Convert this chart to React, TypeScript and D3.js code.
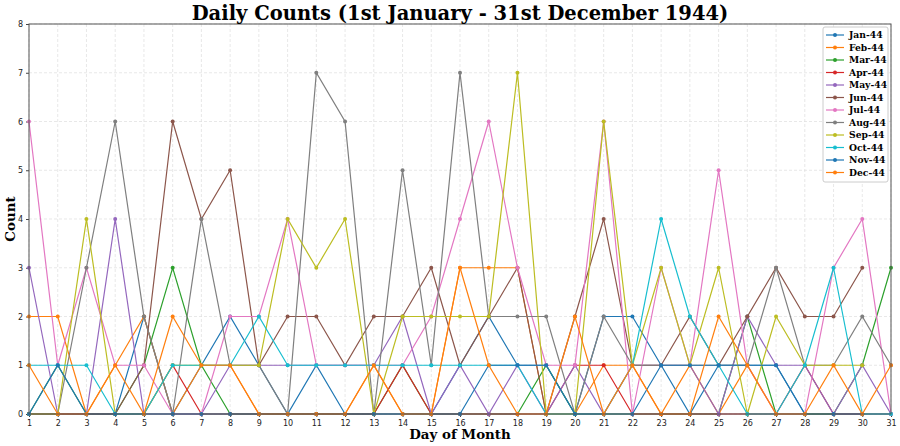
import React, { useRef, useEffect } from 'react';
import * as d3 from 'd3';

const monthLabels = ['Jan-44', 'Feb-44', 'Mar-44', 'Apr-44', 'May-44', 'Jun-44', 'Jul-44', 'Aug-44', 'Sep-44', 'Oct-44', 'Nov-44', 'Dec-44'];
const colors = ['#1f77b4', '#ff7f0e', '#2ca02c', '#d62728', '#9467bd', '#8c564b', '#e377c2', '#7f7f7f', '#bcbd22', '#17becf', '#1f77b4', '#ff7f0e'];

const jan = [0, 0, 0, 0, 2, 0, 1, 2, 1, 0, 1, 0, 0, 0, 0, 1, 2, 1, 1, 0, 2, 2, 1, 0, 1, 1, 1, 0, 0, 0, 0];
const feb = [2, 2, 0, 1, 2, 0, 1, 1, 0, 0, 0, 0, 1, 0, 0, 3, 3, 3, 0, 0, 1, 1, 0, 1, 0, 1, 0, 0, 0];
const mar = [0, 1, 0, 0, 1, 3, 1, 0, 0, 0, 0, 0, 0, 1, 0, 0, 0, 0, 1, 0, 0, 0, 0, 0, 0, 2, 0, 0, 0, 1, 3];
const apr = [0, 0, 0, 0, 0, 1, 0, 0, 0, 0, 0, 0, 0, 1, 0, 0, 0, 0, 0, 1, 1, 0, 0, 0, 0, 0, 0, 1, 0, 0];
const may = [3, 0, 0, 4, 0, 0, 0, 1, 1, 1, 1, 1, 1, 2, 0, 1, 0, 1, 0, 1, 0, 1, 1, 1, 0, 2, 1, 1, 0, 1, 0];
const jun = [0, 0, 0, 0, 1, 6, 4, 5, 1, 2, 2, 1, 2, 2, 3, 1, 2, 3, 0, 2, 4, 1, 1, 2, 1, 2, 3, 2, 2, 3];
const jul = [6, 1, 3, 1, 1, 0, 0, 2, 2, 4, 1, 1, 1, 1, 2, 4, 6, 3, 1, 1, 6, 0, 3, 1, 5, 1, 0, 0, 3, 4, 0];
const aug = [0, 0, 3, 6, 2, 0, 4, 1, 1, 0, 7, 6, 0, 5, 1, 7, 2, 2, 2, 0, 2, 1, 1, 1, 1, 1, 3, 1, 1, 2, 1];
const sep = [0, 0, 4, 0, 0, 1, 1, 1, 1, 4, 3, 4, 0, 2, 2, 2, 2, 7, 0, 0, 6, 1, 3, 1, 3, 0, 2, 1, 1, 1];
const oct = [1, 1, 1, 0, 0, 1, 1, 1, 2, 1, 1, 1, 1, 1, 1, 1, 1, 1, 0, 0, 0, 1, 4, 2, 1, 0, 0, 1, 3, 0, 0];
const nov = [0, 1, 0, 0, 0, 0, 0, 0, 0, 0, 0, 0, 0, 0, 0, 0, 1, 1, 1, 0, 0, 0, 1, 1, 1, 1, 1, 0, 0, 0];
const dec = [1, 0, 0, 1, 0, 2, 1, 1, 0, 0, 0, 0, 1, 0, 0, 3, 1, 0, 0, 2, 0, 1, 0, 0, 2, 1, 0, 0, 1, 0, 1];

const series = [jan, feb, mar, apr, may, jun, jul, aug, sep, oct, nov, dec];
const yTicks = [0, 1, 2, 3, 4, 5, 6, 7, 8];

const App: React.FC = () => {
  const svgRef = useRef<SVGSVGElement>(null);
  const width = 900;
  const height = 446;

  useEffect(() => {
    if (!svgRef.current) return;
    const svg = d3.select(svgRef.current);
    svg.selectAll('*').remove();

    const margin = { top: 24, right: 9, bottom: 32, left: 29 };
    const innerWidth = width - margin.left - margin.right;
    const innerHeight = height - margin.top - margin.bottom;

    const x = d3.scaleLinear().domain([1, 31]).range([0, innerWidth]);
    const y = d3.scaleLinear().domain([0, 8]).range([innerHeight, 0]);

    svg.append('rect').attr('width', width).attr('height', height).attr('fill', '#fff');

    const g = svg.append('g').attr('transform', `translate(${margin.left},${margin.top})`);

    // grid
    g.append('g')
      .selectAll('line')
      .data(d3.range(1, 32))
      .enter().append('line')
      .attr('x1', d => x(d)).attr('x2', d => x(d))
      .attr('y1', 0).attr('y2', innerHeight)
      .attr('stroke', '#dedede').attr('stroke-width', 0.7).attr('stroke-dasharray', '3,2');
    g.append('g')
      .selectAll('line')
      .data(yTicks)
      .enter().append('line')
      .attr('x1', 0).attr('x2', innerWidth)
      .attr('y1', d => y(d)).attr('y2', d => y(d))
      .attr('stroke', '#dedede').attr('stroke-width', 0.7).attr('stroke-dasharray', '3,2');

    // axes
    const xAxis = g.append('g')
      .attr('transform', `translate(0,${innerHeight})`)
      .call(d3.axisBottom(x).tickValues(d3.range(1, 32)).tickFormat(d3.format('d')).tickSize(3));
    const yAxis = g.append('g')
      .call(d3.axisLeft(y).tickValues(yTicks).tickFormat(d3.format('d')).tickSize(3));
    [xAxis, yAxis].forEach(a => {
      a.select('.domain').remove();
      a.selectAll('text').style('font-family', 'DejaVu Sans').style('font-size', '8px').style('fill', '#222');
      a.selectAll('line').attr('stroke', '#444');
    });

    // lines
    const line = d3.line<number>()
      .x((_d, i) => x(i + 1))
      .y(d => y(d));

    series.forEach((s, k) => {
      g.append('path')
        .datum(s)
        .attr('fill', 'none')
        .attr('stroke', colors[k])
        .attr('stroke-width', 1.2)
        .attr('d', line);
      g.append('g')
        .selectAll('circle')
        .data(s)
        .enter().append('circle')
        .attr('cx', (_d, i) => x(i + 1))
        .attr('cy', d => y(d))
        .attr('r', 2)
        .attr('fill', colors[k]);
    });

    // frame
    g.append('rect')
      .attr('width', innerWidth).attr('height', innerHeight)
      .attr('fill', 'none').attr('stroke', '#555').attr('stroke-width', 1);

    // legend
    const lx = innerWidth - 68;
    const ly = 3;
    const rowH = 12.5;
    const legend = g.append('g').attr('transform', `translate(${lx},${ly})`);
    legend.append('rect')
      .attr('width', 65).attr('height', monthLabels.length * rowH + 5)
      .attr('rx', 2)
      .attr('fill', 'rgba(255,255,255,0.85)').attr('stroke', '#ccc');
    const items = legend.selectAll('.item')
      .data(monthLabels)
      .enter().append('g')
      .attr('transform', (_d, i) => `translate(0,${8 + i * rowH})`);
    items.append('line')
      .attr('x1', 3).attr('x2', 21).attr('y1', 0).attr('y2', 0)
      .attr('stroke', (_d, i) => colors[i]).attr('stroke-width', 1.2);
    items.append('circle')
      .attr('cx', 12).attr('cy', 0).attr('r', 2)
      .attr('fill', (_d, i) => colors[i]);
    items.append('text')
      .attr('x', 26).attr('y', 0).attr('dy', '0.35em')
      .style('font-family', 'DejaVu Serif').style('font-weight', 'bold').style('font-size', '9.2px')
      .text(d => d);

    // titles
    svg.append('text')
      .attr('x', margin.left + innerWidth / 2).attr('y', 20)
      .attr('text-anchor', 'middle')
      .style('font-family', 'DejaVu Serif').style('font-weight', 'bold').style('font-size', '19.5px')
      .text('Daily Counts (1st January - 31st December 1944)');
    svg.append('text')
      .attr('x', margin.left + innerWidth / 2).attr('y', 439)
      .attr('text-anchor', 'middle')
      .style('font-family', 'DejaVu Serif').style('font-weight', 'bold').style('font-size', '13.4px')
      .text('Day of Month');
    svg.append('text')
      .attr('transform', `translate(15,${margin.top + innerHeight / 2}) rotate(-90)`)
      .attr('text-anchor', 'middle')
      .style('font-family', 'DejaVu Serif').style('font-weight', 'bold').style('font-size', '13.4px')
      .text('Count');
  }, []);

  return (
    <svg
      ref={svgRef}
      width={width}
      height={height}
      style={{ position: 'absolute', left: 0, top: 0 }}
    />
  );
};

export default App;
